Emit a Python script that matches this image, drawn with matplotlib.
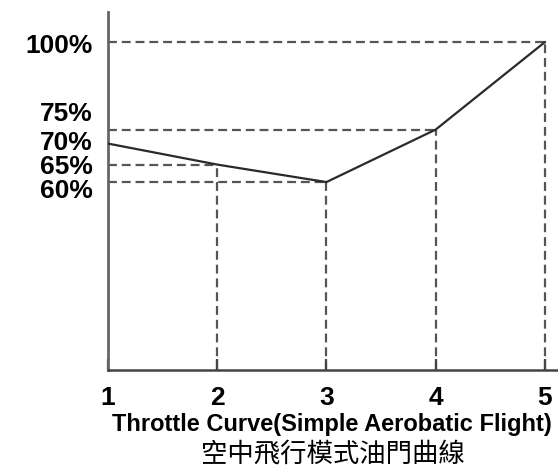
import matplotlib
matplotlib.use("Agg")
import matplotlib.pyplot as plt
import matplotlib.transforms as mtransforms

# Data
points = [1, 2, 3, 4, 5]
throttle = [71, 65, 60, 75, 100]
ytick_values = [100, 75, 70, 65, 60]
ytick_labels = ["100%", "75%", "70%", "65%", "60%"]
xtick_labels = ["1", "2", "3", "4", "5"]
title_en = "Throttle Curve(Simple Aerobatic Flight)"
title_zh = "空中飛行模式油門曲線"
guide_points = [2, 3, 4, 5]  # points with dashed guide lines

fig = plt.figure(figsize=(5.58, 4.77), dpi=100)
ax = fig.add_axes([108/558, 1-371/477, 1-108/558, (371-13)/477])
ax.set_xlim(1, 5.12)
ax.set_ylim(6.3, 108.6)

dash_color = "#555555"
dash = (0, (4, 2.2))
for p, v in zip(points, throttle):
    if p in guide_points:
        ax.plot([1, p], [v, v], color=dash_color, lw=1.6, ls=dash, zorder=1)
        ax.plot([p, p], [ax.get_ylim()[0], v], color=dash_color, lw=1.6, ls=dash, zorder=1)

ax.plot(points, throttle, color="#2a2a2a", lw=1.6, zorder=3, solid_joinstyle="miter")

for s in ["top", "right"]:
    ax.spines[s].set_visible(False)
ax.spines["left"].set_color("#666666")
ax.spines["left"].set_linewidth(2.0)
ax.spines["bottom"].set_color("#444444")
ax.spines["bottom"].set_linewidth(1.8)

ax.set_xticks(points)
ax.set_xticklabels(xtick_labels, fontsize=19, fontweight="bold", family="Liberation Sans")
ax.tick_params(axis="x", direction="in", length=8, width=1.6, color="#444444", pad=11)
ax.set_yticks(ytick_values)
ax.set_yticklabels(ytick_labels, fontsize=19, fontweight="bold", family="Liberation Sans")
ax.tick_params(axis="y", length=0, pad=11)

# spread stacked y labels apart like the reference
offsets_px = {"75%": 19, "70%": 8, "65%": 1, "60%": -5, "100%": 0}
for lab in ax.get_yticklabels():
    dy = offsets_px.get(lab.get_text(), 0) / 100.0
    lab.set_transform(lab.get_transform() + mtransforms.ScaledTranslation(0, dy, fig.dpi_scale_trans))

fig.text(332/558, 1-425/477, title_en, ha="center", va="center", fontsize=17,
         fontweight="bold", family="Liberation Sans")
fig.text(333/558, 1-455/477, title_zh, ha="center", va="center", fontsize=19,
         family=["Noto Sans CJK TC", "DejaVu Sans"])

fig.savefig("out.png", dpi=100)
